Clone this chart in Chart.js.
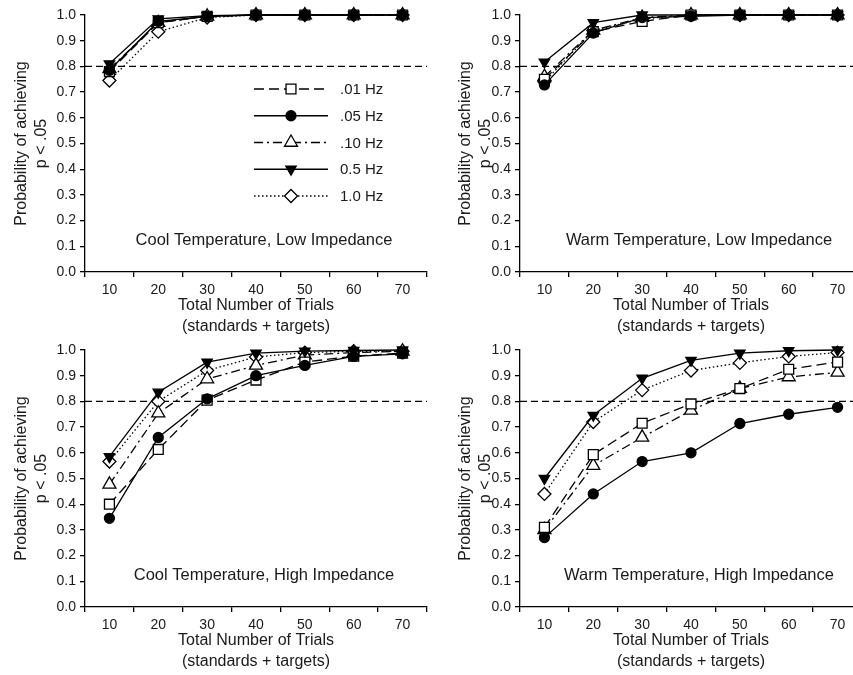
<!DOCTYPE html>
<html>
<head>
<meta charset="utf-8">
<script src="https://cdn.jsdelivr.net/npm/chart.js@4.4.0/dist/chart.umd.min.js"></script>
<style>
html, body { margin: 0; padding: 0; background: #fff; overflow: hidden; width: 853px; height: 675px; }
canvas { position: absolute; }
</style>
</head>
<body>
<canvas id="pA" width="440" height="340" style="left:0;top:0"></canvas>
<canvas id="pB" width="440" height="340" style="left:435px;top:0"></canvas>
<canvas id="pC" width="440" height="340" style="left:0;top:335px"></canvas>
<canvas id="pD" width="440" height="340" style="left:435px;top:335px"></canvas>
<script>
'use strict';
const trials = ['10', '20', '30', '40', '50', '60', '70'];
const hzLabels = ['.01 Hz', '.05 Hz', '.10 Hz', '0.5 Hz', '1.0 Hz'];
const criterion = 0.8;
const yTitle = ['Probability of achieving', 'p < .05'];
const xTitle = ['Total Number of Trials', '(standards + targets)'];

// rows follow hzLabels order
const coolLow = [
    [0.78, 0.97, 0.995, 1.0, 1.0, 1.0, 1.0],
    [0.785, 0.975, 0.995, 1.0, 1.0, 1.0, 1.0],
    [0.79, 0.97, 0.995, 1.0, 1.0, 1.0, 1.0],
    [0.81, 0.985, 0.997, 1.0, 1.0, 1.0, 1.0],
    [0.745, 0.935, 0.99, 1.0, 1.0, 1.0, 1.0]
];
const warmLow = [
    [0.75, 0.935, 0.975, 1.0, 1.0, 1.0, 1.0],
    [0.728, 0.93, 0.99, 0.995, 1.0, 1.0, 1.0],
    [0.76, 0.94, 0.99, 1.0, 1.0, 1.0, 1.0],
    [0.817, 0.97, 1.0, 1.0, 1.0, 1.0, 1.0],
    [0.74, 0.94, 0.985, 1.0, 1.0, 1.0, 1.0]
];
const coolHigh = [
    [0.40, 0.613, 0.805, 0.883, 0.953, 0.976, 0.988],
    [0.345, 0.66, 0.81, 0.90, 0.94, 0.975, 0.985],
    [0.477, 0.754, 0.887, 0.94, 0.98, 0.99, 0.995],
    [0.585, 0.836, 0.953, 0.988, 0.996, 0.998, 1.0],
    [0.566, 0.80, 0.92, 0.973, 0.99, 0.995, 0.995]
];
const warmHigh = [
    [0.31, 0.593, 0.715, 0.79, 0.85, 0.925, 0.953],
    [0.27, 0.44, 0.566, 0.60, 0.714, 0.75, 0.777],
    [0.30, 0.55, 0.66, 0.765, 0.85, 0.895, 0.913],
    [0.50, 0.746, 0.89, 0.96, 0.988, 0.997, 1.0],
    [0.44, 0.72, 0.844, 0.92, 0.95, 0.975, 0.99]
];

const FONT = '"Liberation Sans", Arial, Helvetica, sans-serif';
const INK = '#1a1a1a';

// line / marker look for each frequency
const styles = [
    {dash: [10, 5], point: 'rect', r: 7, fill: '#fff', rot: 0, order: 2},
    {dash: [], point: 'circle', r: 5, fill: '#000', rot: 0, order: 1},
    {dash: [9, 4, 2, 4], point: 'triangle', r: 7.5, fill: '#fff', rot: 0, order: 3},
    {dash: [], point: 'triangle', r: 6, fill: '#000', rot: 180, order: 0},
    {dash: [1.5, 2.5], point: 'rectRot', r: 6.5, fill: '#fff', rot: 0, order: 4}
];

const panelDecor = {
    id: 'panelDecor',
    beforeDatasetsDraw(chart) {
        const {ctx, chartArea: a, scales: {y}} = chart;
        const yy = y.getPixelForValue(criterion);
        ctx.save();
        ctx.strokeStyle = '#000';
        ctx.lineWidth = 1.3;
        ctx.setLineDash([7, 4]);
        ctx.beginPath();
        ctx.moveTo(a.left, yy);
        ctx.lineTo(a.right, yy);
        ctx.stroke();
        ctx.restore();
    },
    afterDatasetsDraw(chart, args, opts) {
        const {ctx, chartArea: a} = chart;
        ctx.save();
        ctx.fillStyle = INK;
        ctx.font = '16.5px ' + FONT;
        ctx.textAlign = 'center';
        ctx.textBaseline = 'middle';
        ctx.fillText(opts.caption, (a.left + a.right) / 2 + 8, a.bottom - 32);
        if (opts.legend) {
            ctx.font = '15px ' + FONT;
            ctx.textAlign = 'left';
            hzLabels.forEach((lab, i) => {
                const s = styles[i];
                const ly = a.top + 74 + i * 26.75;
                ctx.strokeStyle = '#000';
                ctx.lineWidth = 1.3;
                ctx.setLineDash(s.dash);
                ctx.beginPath();
                ctx.moveTo(a.left + 169, ly);
                ctx.lineTo(a.left + 243, ly);
                ctx.stroke();
                ctx.setLineDash([]);
                ctx.fillStyle = s.fill;
                Chart.helpers.drawPoint(ctx, {pointStyle: s.point, radius: s.r, rotation: s.rot, borderWidth: 1.3}, a.left + 206, ly);
                ctx.fillStyle = INK;
                ctx.fillText(lab, a.left + 255, ly + 1);
            });
        }
        ctx.restore();
    }
};

function makePanel(id, rows, caption, legend, titlePad) {
    const datasets = rows.map((vals, i) => ({
        label: hzLabels[i],
        data: vals,
        borderColor: '#000',
        borderWidth: 1.3,
        borderDash: styles[i].dash,
        pointStyle: styles[i].point,
        pointRadius: styles[i].r,
        pointRotation: styles[i].rot,
        pointBackgroundColor: styles[i].fill,
        pointBorderColor: '#000',
        pointBorderWidth: 1.3,
        tension: 0,
        fill: false,
        clip: false,
        order: styles[i].order
    }));
    new Chart(document.getElementById(id), {
        type: 'line',
        data: {labels: trials, datasets: datasets},
        options: {
            responsive: false,
            animation: false,
            layout: {padding: {left: 0, top: 15, right: 13, bottom: 0}},
            plugins: {
                legend: {display: false},
                tooltip: {enabled: false},
                panelDecor: {caption: caption, legend: legend}
            },
            scales: {
                x: {
                    type: 'category',
                    offset: true,
                    afterFit: s => { s.height = 68; },
                    grid: {offset: true, drawOnChartArea: false, drawTicks: true, tickLength: 5, color: '#000', lineWidth: 1.3},
                    border: {display: true, color: '#000', width: 1.3},
                    ticks: {color: INK, font: {family: FONT, size: 14}, padding: 5, maxRotation: 0},
                    title: {display: true, text: xTitle, color: INK, font: {family: FONT, size: 16, lineHeight: 1.3}, padding: {top: 0, bottom: 3}}
                },
                y: {
                    min: 0,
                    max: 1,
                    afterFit: s => { s.width = 85; },
                    grid: {drawOnChartArea: false, drawTicks: true, tickLength: 5, color: '#000', lineWidth: 1.3},
                    border: {display: true, color: '#000', width: 1.3},
                    ticks: {stepSize: 0.1, color: INK, font: {family: FONT, size: 14}, padding: 4, callback: v => v.toFixed(1)},
                    title: {display: true, text: yTitle, color: INK, font: {family: FONT, size: 16, lineHeight: 1.25}, padding: {top: titlePad, bottom: 0}}
                }
            }
        },
        plugins: [panelDecor]
    });
}

makePanel('pA', coolLow, 'Cool Temperature, Low Impedance', true, 12);
makePanel('pB', warmLow, 'Warm Temperature, Low Impedance', false, 21);
makePanel('pC', coolHigh, 'Cool Temperature, High Impedance', false, 12);
makePanel('pD', warmHigh, 'Warm Temperature, High Impedance', false, 21);
</script>
</body>
</html>
